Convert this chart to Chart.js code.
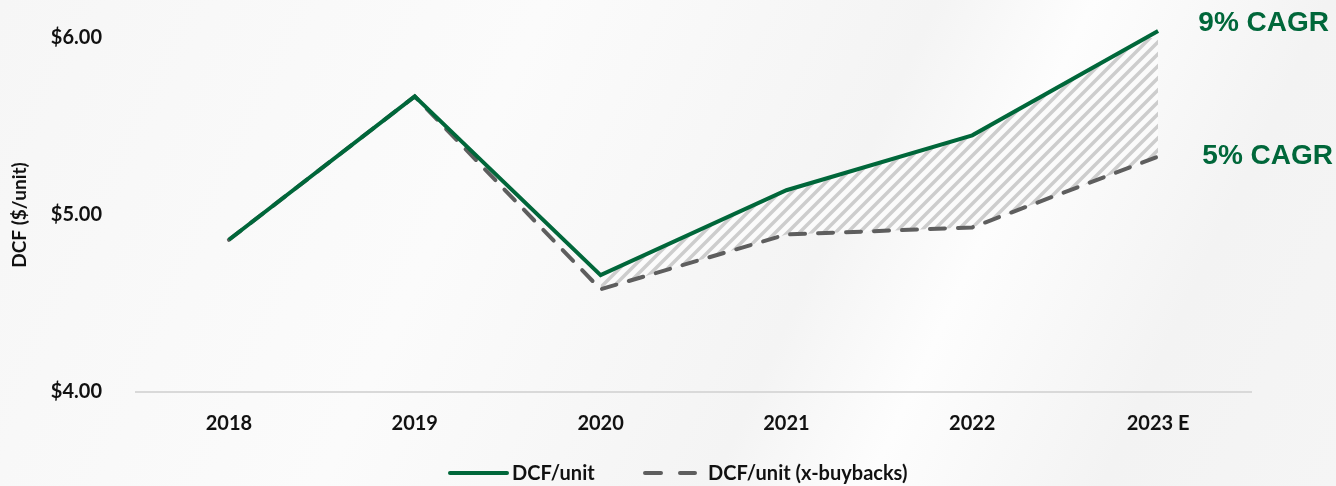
<!DOCTYPE html>
<html>
<head>
<meta charset="utf-8">
<script src="https://cdn.jsdelivr.net/npm/chart.js@4"></script>
<style>
  html, body { margin: 0; padding: 0; overflow: hidden; }
  body {
    width: 1336px; height: 486px;
    background: linear-gradient(115deg, #f6f6f6 0%, #fbfbfb 35%, #f4f4f4 60%, #fdfdfd 70%, #f3f3f3 85%, #f5f5f5 100%);
  }
  #dcfChart { display: block; }
</style>
</head>
<body>
<canvas id="dcfChart" width="1336" height="486"></canvas>
<script>
const years = ['2018', '2019', '2020', '2021', '2022', '2023 E'];
const dcfUnit = [4.86, 5.67, 4.66, 5.14, 5.45, 6.04];
const dcfExBuybacks = [4.86, 5.67, 4.58, 4.89, 4.93, 5.33];
const yTicks = [4, 5, 6];
const yTitle = 'DCF ($/unit)';
const cagrLabels = ['9% CAGR', '5% CAGR'];

const GREEN = '#00673a';
const GREY = '#5e5e5e';
const TEXT = '#111';
const FONT = 'Lato, "Open Sans", sans-serif';

function makeHatch() {
    const c = document.createElement('canvas');
    c.width = 12; c.height = 12;
    const g = c.getContext('2d');
    g.fillStyle = '#fbfbfb';
    g.fillRect(0, 0, 12, 12);
    g.strokeStyle = '#cdcdcd';
    g.lineWidth = 3.5;
    g.beginPath();
    g.moveTo(-3, 15); g.lineTo(15, -3);
    g.moveTo(-3, 3); g.lineTo(3, -3);
    g.moveTo(9, 15); g.lineTo(15, 9);
    g.stroke();
    return g.createPattern(c, 'repeat');
}

// only the part from 2020 onwards is hatched
const hatchTop = dcfUnit.map((v, i) => i >= 2 ? v : null);

const extrasPlugin = {
    id: 'extras',
    afterDraw(chart) {
        const ctx = chart.ctx;
        const area = chart.chartArea;
        ctx.save();
        // y axis title
        ctx.save();
        ctx.translate(20, (area.top + area.bottom) / 2);
        ctx.rotate(-Math.PI / 2);
        ctx.fillStyle = TEXT;
        ctx.font = 'bold 19px ' + FONT;
        ctx.textAlign = 'center';
        ctx.textBaseline = 'middle';
        ctx.fillText(yTitle, 0, 0);
        ctx.restore();

        // CAGR callouts
        ctx.fillStyle = GREEN;
        ctx.font = 'bold 28px "Liberation Sans", Arial, sans-serif';
        ctx.textBaseline = 'middle';
        ctx.textAlign = 'right';
        ctx.fillText(cagrLabels[0], 1329, 23);
        ctx.fillText(cagrLabels[1], 1333, 156);

        // legend
        const ly = 473;
        ctx.lineCap = 'round';
        ctx.lineWidth = 4;
        ctx.strokeStyle = GREEN;
        ctx.beginPath(); ctx.moveTo(450, ly); ctx.lineTo(507, ly); ctx.stroke();
        ctx.strokeStyle = GREY;
        ctx.setLineDash([16, 19]);
        ctx.beginPath(); ctx.moveTo(645, ly); ctx.lineTo(695, ly); ctx.stroke();
        ctx.setLineDash([]);
        ctx.fillStyle = TEXT;
        ctx.font = 'bold 20px ' + FONT;
        ctx.textAlign = 'left';
        ctx.fillText(chart.data.datasets[0].label, 512, ly + 1);
        ctx.fillText(chart.data.datasets[1].label, 708, ly + 1);
        ctx.restore();
    }
};

const tickFont = { family: FONT, weight: 'bold', size: 20 };

new Chart(document.getElementById('dcfChart'), {
    type: 'line',
    data: {
        labels: years,
        datasets: [
            {
                label: 'DCF/unit',
                data: dcfUnit,
                borderColor: GREEN,
                backgroundColor: GREEN,
                borderWidth: 4,
                pointRadius: 0,
                tension: 0,
                fill: false,
                clip: false,
                order: 0
            },
            {
                label: 'DCF/unit (x-buybacks)',
                data: dcfExBuybacks,
                borderColor: GREY,
                backgroundColor: GREY,
                borderWidth: 4,
                borderDash: [15, 13],
                borderCapStyle: 'round',
                pointRadius: 0,
                tension: 0,
                fill: false,
                order: 1
            },
            {
                label: 'hatch',
                data: hatchTop,
                borderWidth: 0,
                borderColor: 'rgba(0,0,0,0)',
                backgroundColor: makeHatch(),
                pointRadius: 0,
                spanGaps: false,
                fill: 1,
                order: 2
            }
        ]
    },
    options: {
        responsive: false,
        animation: false,
        layout: { padding: { left: 6, right: 85, top: 38, bottom: 38 } },
        plugins: {
            legend: { display: false },
            tooltip: { enabled: false }
        },
        scales: {
            x: {
                offset: true,
                grid: { display: false },
                border: { display: true, color: '#d9d9d9', width: 2 },
                ticks: { color: TEXT, font: tickFont, padding: 12, maxRotation: 0 }
            },
            y: {
                min: 4,
                max: 6,
                afterBuildTicks: axis => { axis.ticks = yTicks.map(v => ({ value: v })); },
                afterFit: axis => { axis.width = 130; },
                grid: { display: false },
                border: { display: false },
                ticks: {
                    color: TEXT,
                    font: tickFont,
                    padding: 26,
                    callback: v => '$' + Number(v).toFixed(2)
                }
            }
        }
    },
    plugins: [extrasPlugin]
});
</script>
</body>
</html>
